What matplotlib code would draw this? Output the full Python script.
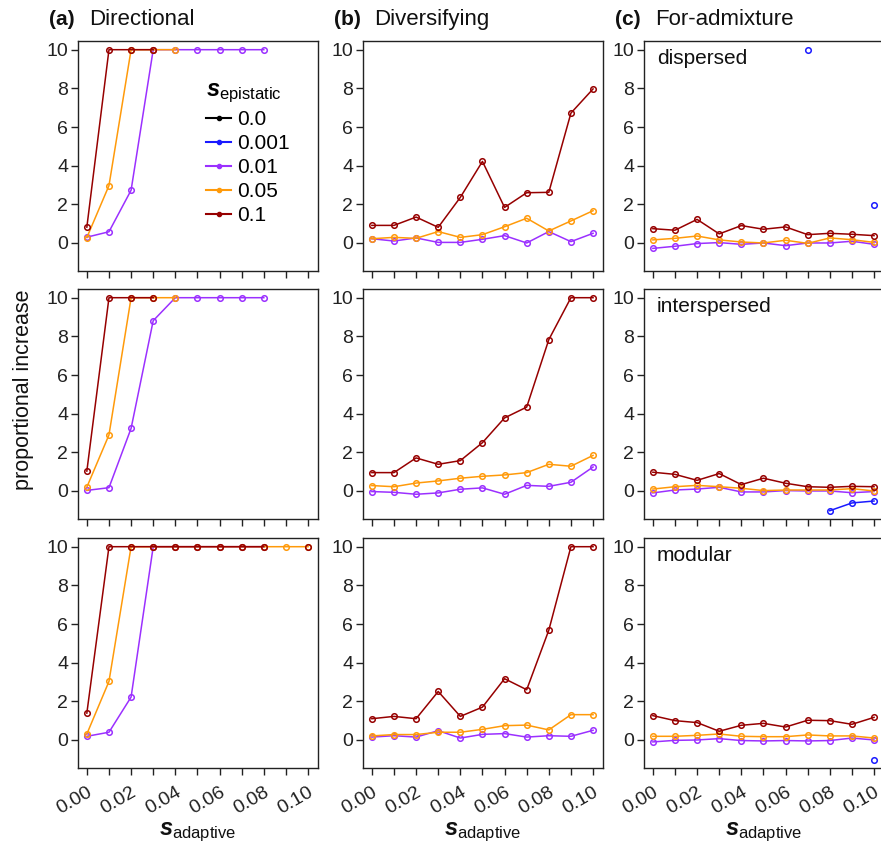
import numpy as np
import matplotlib.pyplot as plt
from matplotlib.lines import Line2D

plt.rcParams['font.family'] = ['Liberation Sans', 'DejaVu Sans']
plt.rcParams['mathtext.fontset'] = 'custom'
plt.rcParams['mathtext.rm'] = 'Liberation Sans'
plt.rcParams['mathtext.it'] = 'Liberation Sans:italic'
plt.rcParams['mathtext.bf'] = 'Liberation Sans:bold'
plt.rcParams['mathtext.bfit'] = 'Liberation Sans:italic:bold'

nan = np.nan

s_adaptive = [0.00, 0.01, 0.02, 0.03, 0.04, 0.05, 0.06, 0.07, 0.08, 0.09, 0.10]
eps_labels = ['0.0', '0.001', '0.01', '0.05', '0.1']
eps_colors = ['#000000', '#1a1aff', '#9b30ff', '#ff9a0a', '#960000']

selection = ['Directional', 'Diversifying', 'For-admixture']
panel_tags = ['(a)', '(b)', '(c)']
architecture = ['dispersed', 'interspersed', 'modular']

# directional selection (values capped at 10)
dir_disp_e01 = [0.30, 0.58, 2.73, 10, 10, 10, 10, 10, 10, nan, nan]
dir_disp_e05 = [0.28, 2.97, 10, 10, 10, nan, nan, nan, nan, nan, nan]
dir_disp_e1 = [0.82, 10, 10, 10, nan, nan, nan, nan, nan, nan, nan]

dir_inter_e01 = [0.03, 0.17, 3.24, 8.81, 10, 10, 10, 10, 10, nan, nan]
dir_inter_e05 = [0.20, 2.90, 10, 10, 10, nan, nan, nan, nan, nan, nan]
dir_inter_e1 = [1.03, 10, 10, 10, nan, nan, nan, nan, nan, nan, nan]

dir_mod_e01 = [0.19, 0.40, 2.22, 10, 10, 10, 10, 10, 10, nan, nan]
dir_mod_e05 = [0.31, 3.03, 10, 10, 10, 10, 10, 10, 10, 10, 10]
dir_mod_e1 = [1.39, 10, 10, 10, 10, 10, 10, 10, 10, nan, 10]

# diversifying selection
div_disp_e01 = [0.22, 0.10, 0.26, 0.03, 0.03, 0.19, 0.38, 0.00, 0.59, 0.07, 0.50]
div_disp_e05 = [0.22, 0.29, 0.24, 0.59, 0.29, 0.43, 0.84, 1.28, 0.62, 1.14, 1.67]
div_disp_e1 = [0.91, 0.91, 1.34, 0.81, 2.36, 4.22, 1.84, 2.60, 2.62, 6.72, 7.97]

div_inter_e01 = [-0.03, -0.07, -0.17, -0.10, 0.09, 0.16, -0.17, 0.29, 0.24, 0.45, 1.24]
div_inter_e05 = [0.28, 0.22, 0.41, 0.52, 0.66, 0.76, 0.83, 0.95, 1.38, 1.28, 1.84]
div_inter_e1 = [0.95, 0.95, 1.71, 1.38, 1.57, 2.50, 3.78, 4.34, 7.83, 10, 10]

div_mod_e01 = [0.15, 0.22, 0.15, 0.48, 0.10, 0.29, 0.33, 0.15, 0.22, 0.19, 0.50]
div_mod_e05 = [0.21, 0.28, 0.28, 0.40, 0.40, 0.55, 0.74, 0.77, 0.52, 1.31, 1.31]
div_mod_e1 = [1.10, 1.22, 1.10, 2.51, 1.22, 1.70, 3.17, 2.60, 5.68, 10, 10]

# selection for admixture
adm_disp_e001 = [nan, nan, nan, nan, nan, nan, nan, 10, nan, nan, 1.97]
adm_disp_e01 = [-0.28, -0.17, -0.03, 0.02, -0.07, 0.00, -0.14, 0.00, 0.00, 0.09, -0.07]
adm_disp_e05 = [0.16, 0.24, 0.36, 0.16, 0.05, 0.00, 0.14, -0.02, 0.26, 0.17, 0.03]
adm_disp_e1 = [0.74, 0.66, 1.22, 0.47, 0.90, 0.71, 0.83, 0.43, 0.50, 0.45, 0.38]

adm_inter_e001 = [nan, nan, nan, nan, nan, nan, nan, nan, -1.02, -0.62, -0.52]
adm_inter_e01 = [-0.10, 0.05, 0.10, 0.19, -0.05, -0.05, 0.02, 0.00, 0.00, -0.09, -0.03]
adm_inter_e05 = [0.10, 0.22, 0.29, 0.22, 0.14, 0.02, 0.05, 0.05, 0.05, 0.12, 0.00]
adm_inter_e1 = [0.97, 0.86, 0.55, 0.90, 0.33, 0.66, 0.40, 0.22, 0.19, 0.24, 0.22]

adm_mod_e001 = [nan, nan, nan, nan, nan, nan, nan, nan, nan, nan, -1.02]
adm_mod_e01 = [-0.10, -0.02, 0.00, 0.07, -0.03, -0.05, -0.03, -0.05, -0.03, 0.10, 0.00]
adm_mod_e05 = [0.19, 0.19, 0.24, 0.31, 0.19, 0.17, 0.17, 0.26, 0.21, 0.21, 0.10]
adm_mod_e1 = [1.26, 1.00, 0.90, 0.45, 0.76, 0.86, 0.67, 1.02, 1.00, 0.81, 1.17]

# panels[row][col] -> {epistasis index: series}
panels = [
    [{2: dir_disp_e01, 3: dir_disp_e05, 4: dir_disp_e1},
     {2: div_disp_e01, 3: div_disp_e05, 4: div_disp_e1},
     {1: adm_disp_e001, 2: adm_disp_e01, 3: adm_disp_e05, 4: adm_disp_e1}],
    [{2: dir_inter_e01, 3: dir_inter_e05, 4: dir_inter_e1},
     {2: div_inter_e01, 3: div_inter_e05, 4: div_inter_e1},
     {1: adm_inter_e001, 2: adm_inter_e01, 3: adm_inter_e05, 4: adm_inter_e1}],
    [{2: dir_mod_e01, 3: dir_mod_e05, 4: dir_mod_e1},
     {2: div_mod_e01, 3: div_mod_e05, 4: div_mod_e1},
     {1: adm_mod_e001, 2: adm_mod_e01, 3: adm_mod_e05, 4: adm_mod_e1}],
]

W, H = 881, 847
fig = plt.figure(figsize=(W / 100, H / 100), dpi=100)

col_left = [78, 363, 644]
row_top = [41, 289, 538]
pw, ph = 240, 230

xtick_labels = ['%.2f' % v if i % 2 == 0 else '' for i, v in enumerate(s_adaptive)]

for r in range(3):
    for c in range(3):
        ax = fig.add_axes([col_left[c] / W, 1 - (row_top[r] + ph) / H, pw / W, ph / H])
        for k in sorted(panels[r][c]):
            ax.plot(s_adaptive, panels[r][c][k], color=eps_colors[k], lw=1.1,
                    marker='o', ms=4, mfc='none', mew=1.1)
        ax.set_xlim(-0.004, 0.1045)
        ax.set_ylim(-1.45, 10.45)
        ax.set_yticks([0, 2, 4, 6, 8, 10])
        ax.set_xticks(s_adaptive)
        if r == 2:
            ax.set_xticklabels(xtick_labels, rotation=30, ha='right',
                               rotation_mode='anchor')
        else:
            ax.set_xticklabels([])
        ax.tick_params(direction='out', length=5, width=1.0, labelsize=14,
                       color='#222222', labelcolor='#222222')
        ax.tick_params(axis='y', pad=2)
        ax.tick_params(axis='x', pad=6)
        for sp in ax.spines.values():
            sp.set_linewidth(1.0)
            sp.set_color('#222222')
        if c == 2:
            ax.text(0.054, 0.90, architecture[r], transform=ax.transAxes,
                    fontsize=15, color='#111111', va='baseline')
        if r == 0 and c == 0:
            handles = [Line2D([], [], color=col, lw=1.5, marker='o', ms=3)
                       for col in eps_colors]
            leg = ax.legend(handles, eps_labels, loc='upper left',
                            bbox_to_anchor=(0.5, 0.87), frameon=False,
                            fontsize=15, handlelength=1.2, handletextpad=0.3,
                            labelspacing=0.24, borderaxespad=0,
                            title=r'$\mathbfit{s}_{\mathrm{epistatic}}$',
                            title_fontsize=17, alignment='left')

for c in range(3):
    x0 = col_left[c]
    fig.text((x0 - 29) / W, 1 - 25 / H, panel_tags[c], fontsize=15,
             fontweight='bold', va='baseline', color='#111111')
    fig.text((x0 + 11) / W, 1 - 25 / H, selection[c], fontsize=16,
             va='baseline', color='#111111')
    fig.text((x0 + pw / 2) / W, 3 / H, r'$\mathbfit{s}_{\mathrm{adaptive}}$',
             fontsize=17, ha='center', va='bottom', color='#111111')

fig.text(24 / W, 1 - 390 / H, 'proportional increase', rotation=90,
         fontsize=15.5, ha='center', va='center', color='#111111')

fig.savefig('out.png', dpi=100)
